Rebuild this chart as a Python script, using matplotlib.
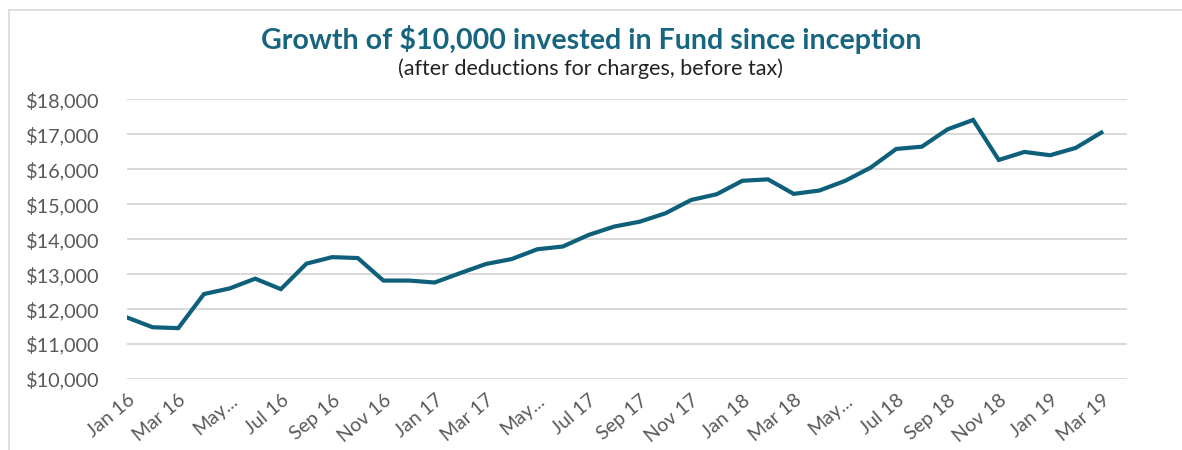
import matplotlib
matplotlib.use("Agg")
import matplotlib.pyplot as plt
from matplotlib.lines import Line2D

# Monthly values, Jan 16 .. Mar 19
months = ["Jan 16", "Feb 16", "Mar 16", "Apr 16", "May 16", "Jun 16", "Jul 16",
          "Aug 16", "Sep 16", "Oct 16", "Nov 16", "Dec 16",
          "Jan 17", "Feb 17", "Mar 17", "Apr 17", "May 17", "Jun 17", "Jul 17",
          "Aug 17", "Sep 17", "Oct 17", "Nov 17", "Dec 17",
          "Jan 18", "Feb 18", "Mar 18", "Apr 18", "May 18", "Jun 18", "Jul 18",
          "Aug 18", "Sep 18", "Oct 18", "Nov 18", "Dec 18",
          "Jan 19", "Feb 19", "Mar 19"]
values = [11760, 11480, 11455, 12430, 12590, 12870, 12570,
          13300, 13485, 13460, 12815, 12815,
          12760, 13030, 13290, 13430, 13710, 13790, 14120,
          14360, 14500, 14740, 15120, 15285,
          15670, 15710, 15295, 15390, 15665, 16045, 16580,
          16645, 17140, 17410, 16265, 16495,
          16400, 16610, 17050]
tick_labels = ["Jan 16", "Mar 16", "May...", "Jul 16", "Sep 16", "Nov 16",
               "Jan 17", "Mar 17", "May...", "Jul 17", "Sep 17", "Nov 17",
               "Jan 18", "Mar 18", "May...", "Jul 18", "Sep 18", "Nov 18",
               "Jan 19", "Mar 19"]
y_ticks = [10000, 11000, 12000, 13000, 14000, 15000, 16000, 17000, 18000]

plt.rcParams['font.family'] = ['Lato', 'DejaVu Sans']

fig = plt.figure(figsize=(11.82, 4.5), dpi=100)
ax = fig.add_axes([127 / 1182, 1 - 379 / 450, 1000 / 1182, 279.7 / 450])

x = list(range(len(values)))
ax.plot(x, values, color='#0e5f7a', linewidth=3, solid_joinstyle='miter', zorder=3)

ax.set_xlim(0, len(values))
ax.set_ylim(10000, 18000)
ax.set_yticks(y_ticks)
ax.set_yticklabels([f"${v:,}" for v in y_ticks], color='#595959', fontsize=14.3)
ax.set_xticks(x[::2])
ax.set_xticklabels(tick_labels, rotation=40, ha='right', rotation_mode='anchor',
                   color='#595959', fontsize=14)
ax.tick_params(axis='both', length=0)
ax.tick_params(axis='y', pad=20)
ax.tick_params(axis='x', pad=9)
ax.grid(axis='y', color='#d9d9d9', linewidth=1.4)
for s in ax.spines.values():
    s.set_visible(False)

fig.text(0.5, 1 - 40 / 450, "Growth of $10,000 invested in Fund since inception",
         ha='center', va='center', fontsize=20.6, fontweight='bold', color='#17657f')
fig.text(0.5, 1 - 69 / 450, "(after deductions for charges, before tax)",
         ha='center', va='center', fontsize=15.5, color='#222222')

# chart border (top and left visible)
fig.add_artist(Line2D([9 / 1182, 1], [1 - 9.5 / 450, 1 - 9.5 / 450], color='#d9d9d9',
                      linewidth=1.2, transform=fig.transFigure))
fig.add_artist(Line2D([9.5 / 1182, 9.5 / 1182], [0, 1 - 9.5 / 450], color='#d9d9d9',
                      linewidth=1.2, transform=fig.transFigure))

fig.savefig("out.png", dpi=100)
